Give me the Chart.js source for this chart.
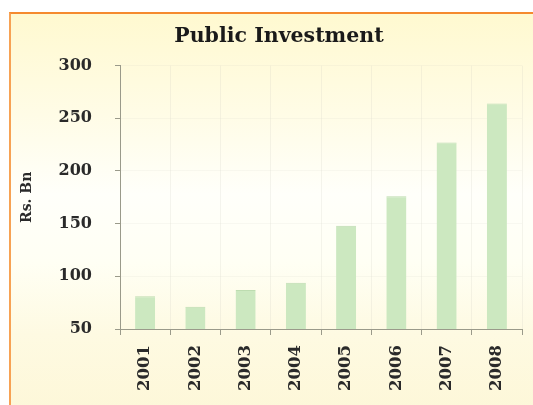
<!DOCTYPE html>
<html>
<head>
<meta charset="utf-8">
<script src="https://cdn.jsdelivr.net/npm/chart.js@4"></script>
<style>
  html, body { margin: 0; padding: 0; background: #fff; }
  #wrap { position: relative; width: 533px; height: 405px; overflow: hidden; }
  #panel {
    position: absolute; left: 9px; top: 12px; width: 540px; height: 400px;
    border-left: 2px solid #f7a254; border-top: 2px solid #f58a2e;
    background: linear-gradient(to bottom, #fff9d0 0%, #fffce6 25%, #fffffa 45%, #fffff4 62%, #fefae2 80%, #fdf7d8 100%);
  }
  #publicInvestment { position: absolute; left: 0; top: 0; }
</style>
</head>
<body>
<div id="wrap">
  <div id="panel"></div>
  <canvas id="publicInvestment" width="533" height="405"></canvas>
</div>
<script>
// Public investment by year, Rs. Bn
const years = ["2001", "2002", "2003", "2004", "2005", "2006", "2007", "2008"];
const investment = [81, 71, 87, 94, 148, 176, 227, 264];
const yTicks = [50, 100, 150, 200, 250, 300];

const serif = "'DejaVu Serif', 'Liberation Serif', serif";

const publicInvestmentChart = new Chart("publicInvestment", {
    type: "bar",
    data: {
        labels: years,
        datasets: [
            {
                label: "Public Investment",
                data: investment,
                backgroundColor: "#cce8c0",
                borderColor: "#bddcb0",
                borderWidth: { top: 1, left: 0, right: 0, bottom: 0 },
                borderSkipped: "bottom",
                barPercentage: 0.4,
                categoryPercentage: 1.0
            }]
    },
    options: {
        responsive: false,
        animation: false,
        devicePixelRatio: 1,
        layout: {
            // wide left padding pushes the title centre right; the y title is pulled back with negative padding
            padding: { left: 36, right: 11, top: 0, bottom: 0 }
        },
        plugins: {
            legend: { display: false },
            tooltip: { enabled: false },
            title: {
                display: true,
                text: "Public Investment",
                color: "#1a1a1a",
                font: { family: serif, size: 20.5, weight: "bold" },
                padding: { top: 24, bottom: 17 }
            }
        },
        scales: {
            x: {
                offset: true,
                grid: {
                    offset: true,
                    color: "rgba(200, 200, 190, 0.2)",
                    tickColor: "#9a9a8a",
                    tickLength: 6,
                    drawOnChartArea: true
                },
                border: { color: "#9a9a8a", width: 1 },
                ticks: {
                    color: "#2a2a2a",
                    font: { family: serif, size: 16.5, weight: "bold" },
                    minRotation: 90,
                    maxRotation: 90,
                    padding: 10
                },
                afterFit: function (scale) { scale.height = 76; }
            },
            y: {
                min: 50,
                max: 300,
                afterBuildTicks: function (scale) {
                    scale.ticks = yTicks.map(v => ({ value: v }));
                },
                grid: {
                    color: "rgba(200, 200, 190, 0.12)",
                    tickColor: "#9a9a8a",
                    tickLength: 5
                },
                border: { color: "#9a9a8a", width: 1 },
                ticks: {
                    color: "#2a2a2a",
                    font: { family: serif, size: 16, weight: "bold" },
                    padding: 23
                },
                title: {
                    display: true,
                    text: "Rs. Bn",
                    color: "#2a2a2a",
                    font: { family: serif, size: 14, weight: "bold" },
                    padding: { top: -17.4, bottom: 0 }
                },
                afterFit: function (scale) { scale.width = 84; }
            }
        }
    }
})
</script>
</body>
</html>
